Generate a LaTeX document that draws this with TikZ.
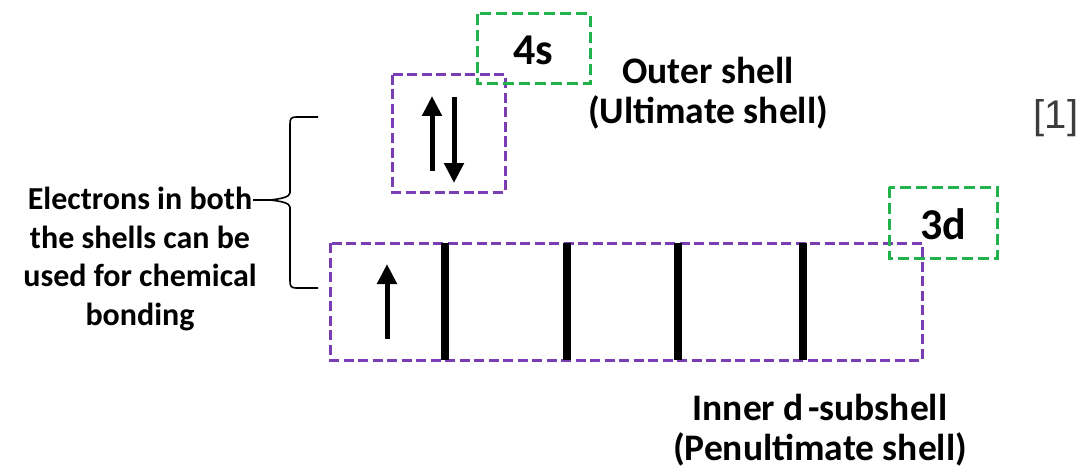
\documentclass[tikz,border=0pt]{standalone}
\usepackage{fontspec}
\setmainfont{Carlito}
\newfontfamily\refsans{Liberation Sans}
\usetikzlibrary{arrows.meta}
\definecolor{shellpurple}{HTML}{7B3DB3}
\definecolor{labelgreen}{HTML}{22B24C}
\definecolor{refgray}{HTML}{3C3C3C}
\tikzset{
  shellbox/.style={draw=shellpurple, line width=3pt, dash pattern=on 10pt off 4.5pt},
  labelbox/.style={draw=labelgreen, line width=3pt, dash pattern=on 11pt off 5pt},
  spin/.style={line width=5pt, -{Triangle[width=19pt,length=20pt]}},
  divider/.style={line width=8pt},
  caption/.style={font=\bfseries\fontsize{32}{38.5}\selectfont, align=center, inner sep=0pt},
  shellname/.style={font=\bfseries\fontsize{37.5}{40.5}\selectfont, align=center, inner sep=0pt},
  orbital/.style={font=\bfseries\fontsize{44}{48}\selectfont, inner sep=0pt}
}
\begin{document}
\begin{tikzpicture}[x=1pt, y=-1pt]
\useasboundingbox (0,0) rectangle (1086,468);

% 4s orbital with its label box
\draw[shellbox] (392,75) rectangle (505,192);
\draw[labelbox] (477,14) rectangle (590,84);
\node[orbital] (l4s) at (533,50) {4s};
\coordinate (s1a) at (432,171);
\coordinate (s1b) at (432,96);
\coordinate (s2a) at (454,97);
\coordinate (s2b) at (454,183);
\draw[spin] (s1a) -- (s1b);
\draw[spin] (s2a) -- (s2b);

\node[shellname] (outer) at (708,93) {Outer shell\\(Ultimate shell)};
\node[font=\refsans\fontsize{40}{46}\selectfont, text=refgray, inner sep=0pt] (ref) at (1056,118) {[1]};

% 3d subshell: five orbitals
\draw[shellbox] (330,243) rectangle (922,360);
\draw[labelbox] (889,187) rectangle (997,258);
\node[orbital] (l3d) at (943,224) {3d};
\foreach \x/\n in {445/a,567/b,678/c,803/d} {
  \coordinate (t\n) at (\x,243);
  \coordinate (b\n) at (\x,360);
  \draw[divider] (t\n) -- (b\n);
}
\coordinate (d1a) at (387,339);
\coordinate (d1b) at (387,264);
\draw[spin] (d1a) -- (d1b);

\node[shellname] (inner) at (820,430) {Inner d\hspace{0.12em}-subshell\\(Penultimate shell)};

% bracket grouping both shells
\node[caption] (note) at (140,259) {Electrons in both\\the shells can be\\used for chemical\\bonding};
\coordinate (tip) at (253,200);
\draw[line width=1.6pt, line join=round] (318,117) -- (296,117) .. controls (291,117) and (290,119) .. (290,124)
  -- (290,193) .. controls (290,197) and (280,199) .. (270,200) -- (tip);
\draw[line width=1.6pt, line join=round] (270,200) .. controls (280,201) and (290,203) .. (290,207)
  -- (290,281) .. controls (290,286) and (291,288) .. (296,288) -- (318,288);
\end{tikzpicture}
\end{document}
